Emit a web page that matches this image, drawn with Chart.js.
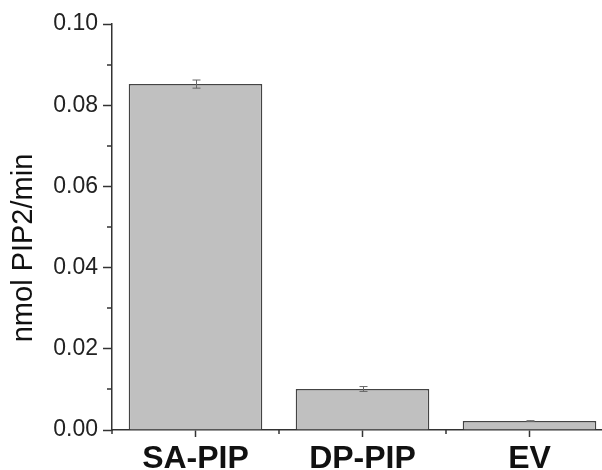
<!DOCTYPE html>
<html>
<head>
<meta charset="utf-8">
<title>nmol PIP2/min</title>
<script src="https://cdn.jsdelivr.net/npm/chart.js@4.4.1/dist/chart.umd.min.js"></script>
<style>
  html, body { margin: 0; padding: 0; background: #fff; overflow: hidden; }
  canvas { display: block; }
</style>
</head>
<body>
<canvas id="grafico" width="620" height="470" style="width:620px;height:470px"></canvas>
<script>
// Datos
const categorias = ['SA-PIP', 'DP-PIP', 'EV'];
const actividad = [0.0852, 0.0101, 0.0022];
const errores = [0.0010, 0.0006, 0.0001];
const ticksY = [0.00, 0.02, 0.04, 0.06, 0.08, 0.10];
const tituloY = 'nmol PIP2/min';

const colorEje = '#333';
const fuente = '"Liberation Sans", Arial, sans-serif';

// Barras de error con tapas
const barrasError = {
  id: 'barrasError',
  afterDatasetsDraw(chart) {
    const ctx = chart.ctx;
    const y = chart.scales.y;
    const meta = chart.getDatasetMeta(0);
    ctx.save();
    ctx.strokeStyle = '#666';
    ctx.lineWidth = 1;
    meta.data.forEach((barra, i) => {
      const x = Math.round(barra.x) + 0.5;
      const arriba = y.getPixelForValue(actividad[i] + errores[i]);
      const abajo = y.getPixelForValue(actividad[i] - errores[i]);
      ctx.beginPath();
      ctx.moveTo(x, arriba);
      ctx.lineTo(x, abajo);
      ctx.moveTo(x - 4, arriba);
      ctx.lineTo(x + 4, arriba);
      ctx.moveTo(x - 4, abajo);
      ctx.lineTo(x + 4, abajo);
      ctx.stroke();
    });
    ctx.restore();
  }
};

// Marcas menores en ambos ejes y título del eje Y
const marcasMenores = {
  id: 'marcasMenores',
  afterDraw(chart) {
    const ctx = chart.ctx;
    const { x, y } = chart.scales;
    const area = chart.chartArea;
    ctx.save();
    ctx.strokeStyle = colorEje;
    ctx.lineWidth = 1.5;
    ctx.beginPath();
    for (let i = 0; i < ticksY.length - 1; i++) {
      const py = Math.round(y.getPixelForValue((ticksY[i] + ticksY[i + 1]) / 2));
      ctx.moveTo(area.left - 5, py);
      ctx.lineTo(area.left, py);
    }
    for (let i = 0; i <= categorias.length; i++) {
      const px = Math.round(x.getPixelForValue(i - 0.5));
      ctx.moveTo(px, area.bottom);
      ctx.lineTo(px, area.bottom + 4);
    }
    ctx.stroke();

    ctx.fillStyle = '#111';
    ctx.font = '29px ' + fuente;
    ctx.textAlign = 'center';
    ctx.textBaseline = 'middle';
    ctx.translate(24, 248);
    ctx.rotate(-Math.PI / 2);
    ctx.fillText(tituloY, 0, 0);
    ctx.restore();
  }
};

new Chart(document.getElementById('grafico'), {
  type: 'bar',
  data: {
    labels: categorias,
    datasets: [{
      data: actividad,
      backgroundColor: '#c0c0c0',
      borderColor: '#444',
      borderWidth: 1.5,
      barPercentage: 0.8,
      categoryPercentage: 1
    }]
  },
  options: {
    responsive: false,
    animation: false,
    devicePixelRatio: 1,
    layout: { padding: { top: 24, right: 7, left: 0, bottom: 0 } },
    plugins: {
      legend: { display: false },
      tooltip: { enabled: false }
    },
    scales: {
      x: {
        grid: {
          display: true,
          drawOnChartArea: false,
          offset: false,
          tickLength: 7,
          tickWidth: 1.5,
          tickColor: colorEje
        },
        border: { color: colorEje, width: 1.5 },
        ticks: {
          color: '#111',
          padding: 3,
          font: { family: fuente, size: 32, weight: 'bold' }
        },
        afterFit(escala) { escala.height = 40; }
      },
      y: {
        min: 0,
        max: 0.10,
        afterBuildTicks(escala) {
          escala.ticks = ticksY.map(v => ({ value: v }));
        },
        grid: {
          display: true,
          drawOnChartArea: false,
          tickLength: 9,
          tickWidth: 1.5,
          tickColor: colorEje
        },
        border: { color: colorEje, width: 1.5 },
        ticks: {
          color: '#222',
          padding: 5,
          font: { family: fuente, size: 23 },
          callback: v => v.toFixed(2)
        },
        afterFit(escala) { escala.width = 112; }
      }
    }
  },
  plugins: [barrasError, marcasMenores]
});
</script>
</body>
</html>
